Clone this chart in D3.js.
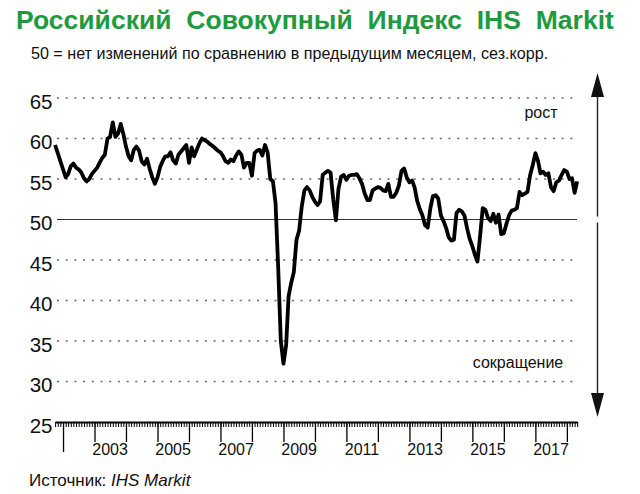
<!DOCTYPE html>
<meta charset="utf-8">
<style>
  body { margin: 0; background: #fff; }
  text { font-family: "Liberation Sans", Arial, sans-serif; fill: #111; }
</style>
<body>
<svg id="chart" width="640" height="494"></svg>
<script src="https://cdnjs.cloudflare.com/ajax/libs/d3/7.8.5/d3.min.js"></script>
<script>

// monthly index, Oct 2001 .. May 2018
var startMonth = new Date(2001, 9, 1);
var pmi = [
  59.2, 58.2, 57.2,
  56.2, 55.2, 55.6, 56.6, 56.9, 56.4, 56.2, 55.8, 55.1, 54.7, 55.0, 55.6,
  56.0, 56.4, 57.0, 57.6, 58.0, 60.0, 60.2, 62.0, 60.2, 60.6, 61.8, 60.6,
  59.0, 57.8, 57.3, 58.6, 59.0, 58.5, 57.2, 56.8, 57.5, 56.3, 55.2, 54.4,
  55.2, 56.5, 57.2, 57.8, 57.8, 58.3, 57.3, 56.9, 58.0, 58.4, 58.8, 59.2,
  57.0, 58.9, 57.8, 58.6, 59.4, 60.0, 59.8, 59.6, 59.3, 59.1, 58.8, 58.5,
  58.3, 57.8, 57.2, 57.0, 57.4, 57.2, 57.9, 58.4, 58.0, 56.4, 57.0, 57.0,
  55.4, 58.2, 58.5, 58.6, 57.9, 59.2, 58.3, 55.0, 54.7, 52.0, 44.0, 35.0,
  32.2, 34.5, 40.5, 42.2, 43.5, 47.5, 48.6, 51.6, 53.6, 54.0, 53.6, 52.8,
  52.2, 51.8, 52.2, 55.5, 55.8, 56.0, 55.8, 52.5, 49.9, 53.8, 55.3, 55.5,
  54.9, 55.4, 55.5, 55.5, 55.6, 55.1, 54.4, 53.2, 52.4, 52.4, 53.6, 53.8,
  54.0, 53.9, 53.6, 53.5, 54.4, 52.8, 52.8, 53.3, 54.2, 56.0, 56.3, 55.2,
  54.6, 54.8, 54.0, 52.3, 51.3, 50.5, 49.3, 49.0, 51.4, 52.9, 53.0, 52.6,
  50.5, 49.8, 49.0, 47.8, 47.4, 47.5, 50.8, 51.2, 51.0, 50.5, 48.9, 47.6,
  46.7, 45.6, 44.8, 48.0, 51.4, 51.2, 50.2, 49.8, 50.7, 49.6, 50.6, 48.2,
  48.3, 49.5, 50.5, 51.1, 51.2, 51.4, 53.4, 53.0, 53.2, 53.4, 55.5, 56.7,
  58.2, 57.2, 55.7, 55.9, 55.5, 55.7, 54.0, 53.5, 54.6, 54.8, 55.5, 56.1,
  55.9, 55.0, 55.1, 53.3, 54.7
];
var yTicks = [25, 30, 35, 40, 45, 50, 55, 60, 65];
var yearLabels = [2003, 2005, 2007, 2009, 2011, 2013, 2015, 2017];

var data = pmi.map(function(v, i) {
  return { date: d3.timeMonth.offset(startMonth, i), value: v };
});

var svg = d3.select("#chart");

var x = d3.scaleTime()
    .domain([startMonth, d3.timeMonth.offset(startMonth, pmi.length - 1)])
    .range([55.1, 577.2]);

var y = d3.scaleLinear()
    .domain([25, 65])
    .range([422, 98]);

// title
svg.append("text")
    .attr("x", 16)
    .attr("y", 29)
    .style("font-size", "26.5px")
    .style("font-weight", "bold")
    .style("word-spacing", "7.5px")
    .style("fill", "#1f9a3f")
    .text("Российский Совокупный Индекс IHS Markit");

svg.append("text")
    .attr("x", 31)
    .attr("y", 59)
    .style("font-size", "16.1px")
    .text("50 = нет изменений по сравнению в предыдущим месяцем, сез.корр.");

// grid
svg.selectAll(".grid")
    .data(yTicks.filter(function(d) { return d != 25; }))
    .enter().append("line")
    .attr("x1", 57)
    .attr("x2", 577)
    .attr("y1", function(d) { return y(d); })
    .attr("y2", function(d) { return y(d); })
    .attr("stroke", function(d) { return d == 50 ? "#333" : "#666"; })
    .attr("stroke-width", function(d) { return d == 50 ? 1.2 : 1.3; })
    .attr("stroke-dasharray", function(d) { return d == 50 ? null : "2,6.7"; });

svg.selectAll(".ylab")
    .data(yTicks)
    .enter().append("text")
    .attr("x", 52.5)
    .attr("y", function(d) { return y(d) + 10.5; })
    .attr("text-anchor", "end")
    .style("font-size", "20.5px")
    .text(function(d) { return d; });

// x axis
var minor = svg.append("g")
    .attr("transform", "translate(0,422)")
    .call(d3.axisBottom(x).ticks(d3.timeMonth.every(1)).tickSize(5).tickSizeOuter(0).tickFormat(""));
minor.select(".domain").attr("stroke-width", 1.8);

var major = svg.append("g")
    .attr("transform", "translate(0,422)")
    .call(d3.axisBottom(x).ticks(d3.timeYear.every(1)).tickSize(20).tickFormat(""));
major.select(".domain").remove();
major.selectAll(".tick line").attr("stroke-width", 1.3)
    .filter(function(d) { return d.getFullYear() == 2002; })
    .attr("y2", 30);

svg.selectAll(".xlab")
    .data(yearLabels)
    .enter().append("text")
    .attr("x", function(d) { return x(new Date(d, 6, 1)); })
    .attr("y", 455)
    .attr("text-anchor", "middle")
    .style("font-size", "16px")
    .text(function(d) { return d; });

// series
svg.append("path")
    .datum(data)
    .attr("fill", "none")
    .attr("stroke", "#000")
    .attr("stroke-width", 3.8)
    .attr("stroke-linejoin", "round")
    .attr("d", d3.line()
        .x(function(d) { return x(d.date); })
        .y(function(d) { return y(d.value); }));

// arrows on the right
var ax = 597.5;
svg.append("line").attr("x1", ax).attr("x2", ax).attr("y1", 95).attr("y2", y(50) - 3)
    .attr("stroke", "#222").attr("stroke-width", 1.4);
svg.append("path").attr("d", "M" + (ax - 6.5) + ",97L" + (ax + 6.5) + ",97L" + ax + ",73Z").attr("fill", "#111");
svg.append("line").attr("x1", ax).attr("x2", ax).attr("y1", y(50) + 3).attr("y2", 395)
    .attr("stroke", "#222").attr("stroke-width", 1.4);
svg.append("path").attr("d", "M" + (ax - 6.5) + ",393L" + (ax + 6.5) + ",393L" + ax + ",417Z").attr("fill", "#111");

svg.append("text")
    .attr("x", 541)
    .attr("y", 118)
    .attr("text-anchor", "middle")
    .style("font-size", "16px")
    .text("рост");

svg.append("text")
    .attr("x", 518)
    .attr("y", 368)
    .attr("text-anchor", "middle")
    .style("font-size", "16px")
    .text("сокращение");

// source
var src = svg.append("text")
    .attr("x", 29)
    .attr("y", 486)
    .style("font-size", "17px");
src.append("tspan").text("Источник: ");
src.append("tspan").style("font-style", "italic").text("IHS Markit");

</script>
</body>
